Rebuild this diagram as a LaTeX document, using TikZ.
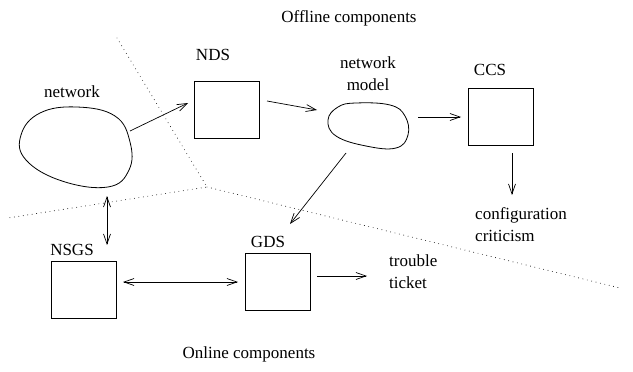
\documentclass[tikz,border=0pt]{standalone}
\usepackage{fontspec}
\setmainfont{Liberation Serif}
\usetikzlibrary{arrows.meta}
\begin{document}
\begin{tikzpicture}[x=1pt,y=-1pt,
  lbl/.style={font=\fontsize{17}{22}\selectfont, inner sep=0pt},
  txt/.style={font=\fontsize{17}{22}\selectfont, inner sep=0pt, align=left},
  comp/.style={draw, line width=0.8pt, minimum width=65pt, minimum height=57pt, inner sep=0pt},
  blob/.style={draw, line width=0.8pt},
  conn/.style={line width=0.7pt, -{Straight Barb[length=10pt,width=7pt]}},
  bidir/.style={line width=0.7pt, {Straight Barb[length=10pt,width=7pt]}-{Straight Barb[length=10pt,width=7pt]}},
  border/.style={line width=0.9pt, line cap=round, dash pattern=on 0pt off 4.5pt}]
\useasboundingbox (0,0) rectangle (633,372);

% region borders
\coordinate (btop) at (117,38);
\coordinate (bmid) at (207,187);
\coordinate (bleft) at (8,218);
\coordinate (bright) at (620,288);
\draw[border] (btop) -- (bmid) -- (bleft);
\draw[border] (bmid) -- (bright);

% region titles
\node[lbl] (offline) at (349,18) {Offline components};
\node[lbl] (online) at (249,354) {Online components};

% network cloud
\draw[blob] plot[smooth cycle, tension=0.7] coordinates {(77,107) (115,116) (130,142) (129,170) (108,187) (62,181) (26,160) (21,135) (40,113)};
\node[lbl] (netlbl) at (72,92) {network};
\coordinate (netout) at (130,131);

% network model cloud
\draw[blob] plot[smooth cycle, tension=0.7] coordinates {(356,103) (390,105) (405,116) (408,135) (396,148) (366,146) (336,136) (328,120) (338,107)};
\node[lbl, align=center] (modellbl) at (368,74) {network\\model};
\coordinate (modelin) at (317,110);
\coordinate (modelout) at (418,117);
\coordinate (modeldown) at (346,153);

% components
\node[comp] (nds) at (227,109.5) {};
\node[lbl] (ndslbl) at (213,55) {NDS};
\node[comp] (ccs) at (500.5,117) {};
\node[lbl] (ccslbl) at (490,70) {CCS};
\node[comp] (nsgs) at (83.5,289.5) {};
\node[lbl] (nsgslbl) at (72,250) {NSGS};
\node[comp] (gds) at (277.5,282) {};
\node[lbl] (gdslbl) at (268,242) {GDS};

% outputs
\node[txt, anchor=north west] (crit) at (475,207) {configuration\\criticism};
\node[txt, anchor=north west] (ticket) at (389,255) {trouble\\ticket};

% arrow end points
\coordinate (ndsin) at (188,103);
\coordinate (ndsout) at (267,101);
\coordinate (ccsin) at (461,117);
\coordinate (ccsout) at (512,153);
\coordinate (critin) at (512,195);
\coordinate (gdsin) at (290,224);
\coordinate (vtop) at (107,196);
\coordinate (vbot) at (107,245);
\coordinate (nsgsout) at (123,282);
\coordinate (gdsleft) at (238,282);
\coordinate (gdsout) at (317,276);
\coordinate (ticketin) at (367,276);

% connectors
\draw[conn] (netout) -- (ndsin);
\draw[conn] (ndsout) -- (modelin);
\draw[conn] (modelout) -- (ccsin);
\draw[conn] (ccsout) -- (critin);
\draw[conn] (modeldown) -- (gdsin);
\draw[bidir] (vtop) -- (vbot);
\draw[bidir] (nsgsout) -- (gdsleft);
\draw[conn] (gdsout) -- (ticketin);
\end{tikzpicture}
\end{document}
